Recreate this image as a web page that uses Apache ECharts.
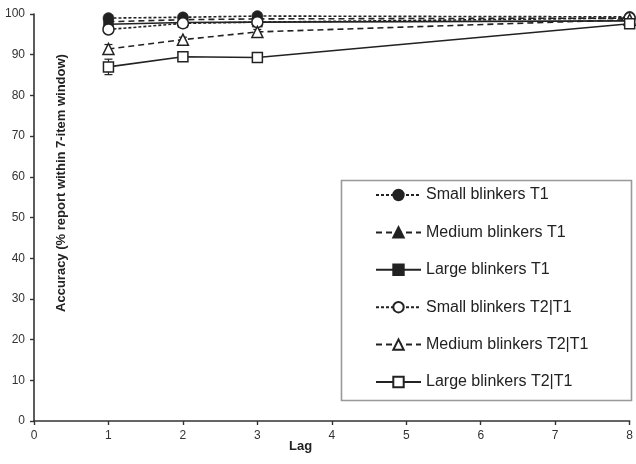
<!DOCTYPE html>
<html>
<head>
<meta charset="utf-8">
<script src="https://cdn.jsdelivr.net/npm/echarts@6/dist/echarts.min.js"></script>
<style>
  html, body { margin: 0; padding: 0; background: #fff; }
  #chart { width: 636px; height: 464px; }
</style>
</head>
<body>
<div id="chart"></div>
<script>
// Lags at which accuracy was measured
const lags = [1, 2, 3, 8];

// Accuracy (% report within 7-item window) per group and target
const smallT1    = [99.0, 99.2, 99.5, 99.3];
const mediumT1   = [98.1, 98.6, 98.8, 99.0];
const largeT1    = [97.5, 97.9, 98.0, 98.3];
const smallT2T1  = [96.2, 97.7, 98.0, 99.0];
const mediumT2T1 = [91.4, 93.7, 95.6, 98.6];
const largeT2T1  = [87.0, 89.5, 89.3, 97.6];

// Standard errors (half-length of the error bars)
const smallT1Err    = [0.3, 0.3, 0.2, 0.2];
const mediumT1Err   = [0.4, 0.3, 0.3, 0.2];
const largeT1Err    = [0.5, 0.4, 0.4, 0.3];
const smallT2T1Err  = [0.5, 0.4, 0.4, 0.3];
const mediumT2T1Err = [1.1, 0.6, 0.6, 0.3];
const largeT2T1Err  = [1.9, 0.7, 0.7, 0.4];

const INK = '#222';
const SHORT_DASH = [3, 2];
const LONG_DASH = [6, 4];
const FONT = 'Liberation Sans, Arial, sans-serif';

const groups = [
  { name: 'Small blinkers T1',     values: smallT1,    err: smallT1Err,    symbol: 'circle',   filled: true,  dash: SHORT_DASH },
  { name: 'Medium blinkers T1',    values: mediumT1,   err: mediumT1Err,   symbol: 'triangle', filled: true,  dash: LONG_DASH },
  { name: 'Large blinkers T1',     values: largeT1,    err: largeT1Err,    symbol: 'rect',     filled: true,  dash: 'solid' },
  { name: 'Small blinkers T2|T1',  values: smallT2T1,  err: smallT2T1Err,  symbol: 'circle',   filled: false, dash: SHORT_DASH },
  { name: 'Medium blinkers T2|T1', values: mediumT2T1, err: mediumT2T1Err, symbol: 'triangle', filled: false, dash: LONG_DASH },
  { name: 'Large blinkers T2|T1',  values: largeT2T1,  err: largeT2T1Err,  symbol: 'rect',     filled: false, dash: 'solid' }
];

function pairs(values) {
  return lags.map((lag, i) => [lag, values[i]]);
}

function errorBarSeries(g) {
  return {
    type: 'custom',
    name: g.name + ' error',
    z: 1,
    silent: true,
    data: lags.map((lag, i) => [lag, g.values[i] - g.err[i], g.values[i] + g.err[i]]),
    renderItem: function (params, api) {
      const lo = api.coord([api.value(0), api.value(1)]);
      const hi = api.coord([api.value(0), api.value(2)]);
      const cap = 4;
      const style = { stroke: INK, lineWidth: 1.2 };
      return {
        type: 'group',
        children: [
          { type: 'line', shape: { x1: lo[0], y1: lo[1], x2: hi[0], y2: hi[1] }, style: style },
          { type: 'line', shape: { x1: lo[0] - cap, y1: lo[1], x2: lo[0] + cap, y2: lo[1] }, style: style },
          { type: 'line', shape: { x1: hi[0] - cap, y1: hi[1], x2: hi[0] + cap, y2: hi[1] }, style: style }
        ]
      };
    }
  };
}

function lineSeries(g) {
  const size = g.symbol === 'rect' ? 10 : 11;
  return {
    type: 'line',
    name: g.name,
    data: pairs(g.values),
    z: 3,
    symbol: g.symbol,
    symbolSize: size,
    showAllSymbol: true,
    lineStyle: { color: INK, width: 1.6, type: g.dash },
    itemStyle: {
      color: g.filled ? INK : '#fff',
      borderColor: INK,
      borderWidth: g.filled ? 0.5 : 1.5
    },
    emphasis: { disabled: true }
  };
}

const series = [];
groups.forEach(g => series.push(errorBarSeries(g)));
groups.forEach(g => series.push(lineSeries(g)));

const chart = echarts.init(document.getElementById('chart'), null, { renderer: 'canvas' });

chart.setOption({
  animation: false,
  backgroundColor: '#fff',
  textStyle: { fontFamily: FONT },
  grid: { left: 34, right: 4, top: 14, bottom: 43, containLabel: false },
  xAxis: {
    type: 'value',
    min: 0,
    max: 8,
    interval: 1,
    splitLine: { show: false },
    axisLine: { lineStyle: { color: '#333', width: 1.6 } },
    axisTick: { show: true, length: 4, lineStyle: { color: '#333', width: 1.4 } },
    axisLabel: { color: '#333', fontSize: 12, margin: 9 }
  },
  yAxis: {
    type: 'value',
    min: 0,
    max: 100,
    interval: 10,
    splitLine: { show: false },
    axisLine: { show: true, lineStyle: { color: '#333', width: 1.6 } },
    axisTick: { show: true, length: 4, lineStyle: { color: '#333', width: 1.4 } },
    axisLabel: { color: '#333', fontSize: 12, margin: 9 }
  },
  legend: {
    data: groups.map(g => g.name),
    orient: 'vertical',
    left: 375,
    top: 187,
    itemWidth: 45,
    itemHeight: 13,
    itemGap: 21.4,
    padding: 0,
    selectedMode: false,
    textStyle: { color: '#222', fontSize: 16, lineHeight: 16, padding: [0, 0, 0, 0] }
  },
  graphic: [
    {
      type: 'rect',
      left: 339,
      top: 178,
      shape: { width: 290, height: 220 },
      style: { fill: 'none', stroke: '#999', lineWidth: 1.6 },
      silent: true,
      z: 0
    },
    {
      type: 'text',
      left: 289,
      top: 440,
      style: { text: 'Lag', font: 'bold 13px ' + FONT, fill: '#222' }
    },
    {
      type: 'text',
      x: 61,
      y: 183,
      rotation: Math.PI / 2,
      style: {
        text: 'Accuracy (% report within 7-item window)',
        font: 'bold 13px ' + FONT,
        fill: '#222',
        align: 'center',
        verticalAlign: 'middle'
      }
    }
  ],
  series: series
});
</script>
</body>
</html>
